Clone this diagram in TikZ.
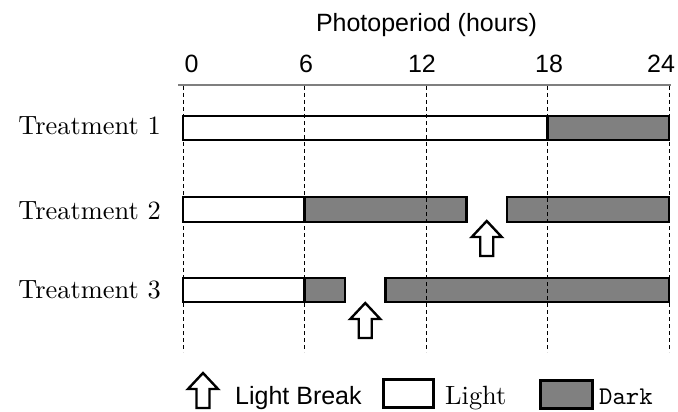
\documentclass[tikz,border=0pt]{standalone}
\usepackage{fontspec}
\usepackage{graphicx}
\newfontfamily\arialf{Liberation Sans}
\begin{document}
\begin{tikzpicture}[x=1pt,y=-1pt,
  lightbar/.style={draw=black,line width=2.5pt,fill=white},
  darkbar/.style={draw=black,line width=2.5pt,fill=bargray},
  grid/.style={draw=black,line width=0.8pt,dash pattern=on 4pt off 3pt},
  axisline/.style={draw=axisgray,line width=1.5pt},
  ticklab/.style={inner sep=0pt,anchor=base,font=\arialf\fontsize{25}{30}\selectfont},
  rowlab/.style={inner sep=0pt,anchor=base east,font=\fontsize{10}{12}\selectfont},
  sanslab/.style={inner sep=0pt,anchor=base west,font=\arialf\fontsize{25}{30}\selectfont},
  serlab/.style={inner sep=0pt,anchor=base west,font=\fontsize{10}{12}\selectfont},
  lbarrow/.pic={\draw[line width=2.4pt,fill=white,line join=miter]
     (0,0) -- (15,16) -- (6.5,16) -- (6.5,35) -- (-6.5,35) -- (-6.5,16) -- (-15,16) -- cycle;}
]
\definecolor{bargray}{HTML}{808080}
\definecolor{axisgray}{HTML}{7F7F7F}
\useasboundingbox (0,0) rectangle (678,412);

% title and ticks
\node[ticklab] (title) at (426.5,32) {Photoperiod (hours)};
\node[ticklab] (t0) at (191.5,73) {0};
\node[ticklab] (t6) at (306,73) {6};
\node[ticklab] (t12) at (422,73) {12};
\node[ticklab] (t18) at (549,73) {18};
\node[ticklab] (t24) at (661,73) {24};
\draw[axisline] (178,85) -- (671,85);

% row labels
\node[rowlab] (r1) at (161,135) {\scalebox{2.64}{Treatment 1}};
\node[rowlab] (r2) at (161,219) {\scalebox{2.64}{Treatment 2}};
\node[rowlab] (r3) at (161,298) {\scalebox{2.64}{Treatment 3}};

% bars
\draw[lightbar] (183,116) rectangle (547.5,140);
\draw[darkbar] (547.5,116) rectangle (669,140);

\draw[lightbar] (183,197) rectangle (304.5,222);
\draw[darkbar] (304.5,197) rectangle (466.5,222);
\draw[darkbar] (507,197) rectangle (669,222);

\draw[lightbar] (183,278) rectangle (304.5,302);
\draw[darkbar] (304.5,278) rectangle (345,302);
\draw[darkbar] (385.5,278) rectangle (669,302);

% dashed grid lines
\foreach \xx in {183,304.5,426,547.5,669}
  \draw[grid] (\xx,86) -- (\xx,352);

% light break arrows
\pic at (486.75,221) {lbarrow};
\pic at (365.25,303) {lbarrow};

% legend
\pic at (203,373) {lbarrow};
\node[sanslab] (lb) at (235,404) {Light Break};
\draw[draw=black,line width=3pt,fill=white] (383,379) rectangle (433,407);
\node[serlab] (ll) at (445,404) {\scalebox{2.64}{Light}};
\draw[draw=black,line width=3pt,fill=bargray] (540,380) rectangle (592,408);
\node[serlab] (dl) at (599,404) {\scalebox{2.55}{\ttfamily Dark}};
\end{tikzpicture}
\end{document}
